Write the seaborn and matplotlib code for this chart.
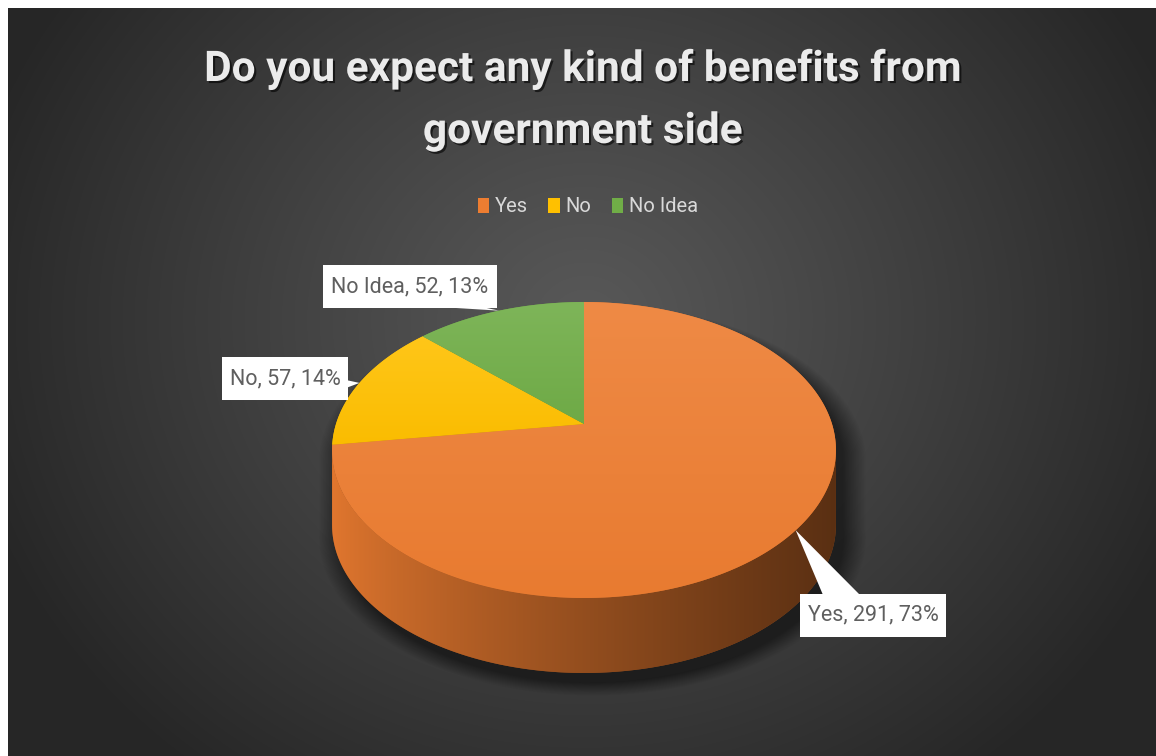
import numpy as np
import pandas as pd
import matplotlib
matplotlib.use("Agg")
import matplotlib.pyplot as plt
import seaborn as sns
from matplotlib.patches import Polygon, Patch, Rectangle
from matplotlib.colors import to_rgb
import matplotlib.patheffects as pe
from matplotlib import font_manager

# ---- data -------------------------------------------------------------
categories = ["Yes", "No", "No Idea"]
counts = [291, 57, 52]
slice_colors = ["#ED7D31", "#FFC000", "#70AD47"]
title_lines = ["Do you expect any kind of benefits from", "government side"]

df = pd.DataFrame({"category": categories, "count": counts})
df["pct"] = df["count"] / df["count"].sum() * 100
edges = np.concatenate([[0.0], np.cumsum(df["pct"].to_numpy()) * 3.6])

# ---- style ------------------------------------------------------------
sns.set_theme(style="white")
available = {f.name for f in font_manager.fontManager.ttflist}
NARROW = next((f for f in ["Liberation Sans Narrow", "Roboto", "DejaVu Sans"] if f in available), "DejaVu Sans")
plt.rcParams["font.family"] = [NARROW, "DejaVu Sans"]
palette = sns.color_palette(slice_colors)

W, H = 1156, 756
fig = plt.figure(figsize=(W / 100, H / 100), dpi=100, facecolor="white")
ax = fig.add_axes([0, 0, 1, 1])
ax.axis("off")

# dark panel with a soft radial glow
yy, xx = np.mgrid[8:H:1.0, 8:W:1.0]
d = np.hypot(xx - 585, (yy - 320) / 0.9)
t = np.clip(d / 640, 0, 1) ** 1.1
c_in, c_out = np.array(to_rgb("#585858")), np.array(to_rgb("#262626"))
bg = c_in * (1 - t[..., None]) + c_out * t[..., None]
ax.imshow(bg, extent=(8, W, H, 8), interpolation="bilinear", zorder=0, aspect="auto")

# ---- 3-D pie geometry (perspective-projected disc) ---------------------
X0, Y0, A, B, P, DEPTH = 584, 424, 248, 143.4, 0.1757, 75


def rim(theta_deg, z=0.0):
    th = np.radians(theta_deg)
    u, v = np.sin(th), np.cos(th)
    s = 1.0 / (1.0 + P * v)
    return X0 + A * u * s, Y0 - B * v * s + z


# drop shadow under the disc
sy0, sy1 = 452, 452 + DEPTH
ycl = np.clip(yy, sy0, sy1)
r = np.hypot((xx - (X0 + 8)) / 256, (yy - ycl - 10) / 148)
alpha = 0.5 * np.clip((1.07 - r) / 0.09, 0, 1)
shadow = np.zeros(xx.shape + (4,))
shadow[..., 3] = alpha
ax.imshow(shadow, extent=(8, W, H, 8), interpolation="bilinear", zorder=1, aspect="auto")


def gradient_fill(verts, color, mode, z):
    base = np.array(to_rgb(color))
    poly = Polygon(verts, closed=True, transform=ax.transData,
                   facecolor=base * (0.98 if mode == "top" else 0.6), edgecolor="none", zorder=z)
    ax.add_patch(poly)
    x0, x1 = verts[:, 0].min() - 2, verts[:, 0].max() + 2
    y0, y1 = verts[:, 1].min() - 2, verts[:, 1].max() + 2
    if mode == "top":
        k = np.linspace(0, 1, 200)[:, None]
        light = base + (1 - base) * 0.1
        dark = base * 0.98
        img = light * (1 - k[..., None]) + dark * k[..., None]
        img = np.repeat(img, 2, axis=1)
    else:
        k = np.clip((np.linspace(x0, x1, 300) - 332) / 504, 0, 1) ** 0.8
        f = 0.95 - 0.57 * k
        img = (base[None, :] * f[:, None])[None, :, :]
        img = np.repeat(img, 2, axis=0)
    im = ax.imshow(img, extent=(x0, x1, y1, y0), interpolation="bilinear", zorder=z + 0.1, aspect="auto")
    im.set_clip_path(poly)


lo_vis = np.degrees(np.arccos(-P))
hi_vis = 360 - lo_vis
for i in range(len(categories)):
    a0, a1 = edges[i], edges[i + 1]
    lo, hi = max(a0, lo_vis), min(a1, hi_vis)
    if lo < hi:
        th = np.linspace(lo, hi, 240)
        tx, ty = rim(th)
        bx, by = rim(th[::-1], DEPTH)
        side = np.column_stack([np.concatenate([tx, bx]), np.concatenate([ty, by])])
        gradient_fill(side, palette[i], "side", 2)

for i in range(len(categories)):
    th = np.linspace(edges[i], edges[i + 1], 300)
    tx, ty = rim(th)
    top = np.column_stack([np.concatenate([[X0], tx]), np.concatenate([[Y0], ty])])
    gradient_fill(top, palette[i], "top", 4)

# ---- data labels with callouts ----------------------------------------
label_centers = [(873, 615), (285, 378.5), (410, 286.5)]
pointer_bases = [((823, 595), (860, 595)), ((346, 380), (346, 388)), ((440, 307), (482, 307))]
BOX_H, BOX_PADX = 43, 8
renderer = fig.canvas.get_renderer()
for i, row in df.iterrows():
    mid = (edges[i] + edges[i + 1]) / 2
    tip = rim(mid)
    (b1, b2) = pointer_bases[i]
    ax.add_patch(Polygon([b1, b2, tip], closed=True, facecolor="white", edgecolor="none", zorder=6))
    txt = f"{row['category']}, {row['count']}, {round(row['pct'])}%"
    cx, cy = label_centers[i]
    t_obj = ax.text(cx, cy, txt, ha="center", va="center", fontsize=15.5, color="#5F5F5F", zorder=7.5)
    tw = t_obj.get_window_extent(renderer).width
    ax.add_patch(Rectangle((cx - tw / 2 - BOX_PADX, cy - BOX_H / 2), tw + 2 * BOX_PADX, BOX_H,
                           facecolor="white", edgecolor="none", zorder=7))

# ---- title and legend ---------------------------------------------------
shadow_fx = [pe.SimplePatchShadow(offset=(1.5, -1.5), shadow_rgbFace="black", alpha=0.6), pe.Normal()]
ax.text(583, 81, title_lines[0], ha="center", va="baseline", fontsize=30.5, fontweight="bold",
        color="#EBEBEB", path_effects=shadow_fx, zorder=8)
ax.text(583, 143, title_lines[1], ha="center", va="baseline", fontsize=30.5, fontweight="bold",
        color="#EBEBEB", path_effects=shadow_fx, zorder=8)

handles = [Patch(facecolor=palette[i], edgecolor="none") for i in range(len(categories))]
fig.legend(handles, categories, ncol=3, loc="center", bbox_to_anchor=(588 / W, 1 - 207 / H),
           frameon=False, fontsize=14.5, handlelength=0.55, handleheight=0.8, handletextpad=0.3,
           columnspacing=1.0, labelcolor="#D9D9D9")

ax.set_xlim(0, W)
ax.set_ylim(H, 0)
fig.savefig("out.png", dpi=100, facecolor="white")
